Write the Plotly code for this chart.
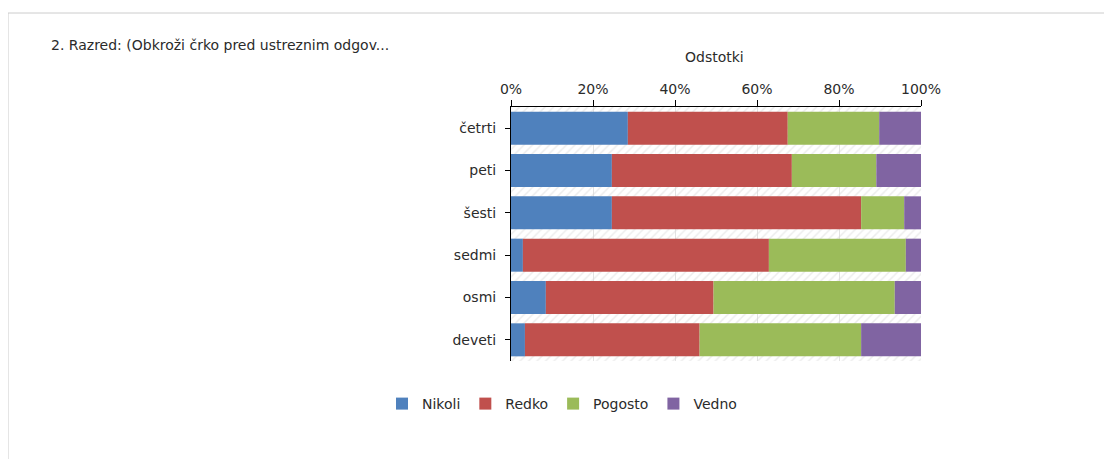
import numpy as np
import plotly.graph_objects as go

categories = ["četrti", "peti", "šesti", "sedmi", "osmi", "deveti"]
nikoli = [28.5, 24.6, 24.6, 2.9, 8.5, 3.4]
redko = [39.0, 43.9, 60.8, 60.0, 40.9, 42.6]
pogosto = [22.3, 20.6, 10.5, 33.4, 44.2, 39.4]
vedno = [10.2, 10.9, 4.1, 3.7, 6.4, 14.6]
series_names = ["Nikoli", "Redko", "Pogosto", "Vedno"]
colors = ["#4F81BD", "#C0504D", "#9BBB59", "#8064A2"]
tick_vals = [0, 20, 40, 60, 80, 100]
tick_text = ["0%", "20%", "40%", "60%", "80%", "100%"]

OFF = 8  # page body margin
W, H = 1112 - OFF, 459 - OFF
L = 511 - OFF
T = 107 - OFF
R = W - (921 - OFF)
B = H - (361 - OFF)
pw, ph = W - L - R, H - T - B

def px(x):
    return (x - OFF - L) / pw

def py(y):
    return (H - B - (y - OFF)) / ph

FONT = "DejaVu Sans"
TXT = "#2b2b2b"
FS = 14

fig = go.Figure()

# hatched plot background (between bars)
fig.add_trace(go.Bar(
    y=categories, x=[100] * len(categories), base=[0] * len(categories),
    orientation="h", width=1.0, showlegend=False, hoverinfo="skip",
    marker=dict(color="rgba(255,255,255,0)", line=dict(width=0),
                pattern=dict(shape="/", fgcolor="#dadada", bgcolor="rgba(255,255,255,0)",
                             size=6, solidity=0.25, fillmode="overlay")),
))

data = np.array([nikoli, redko, pogosto, vedno])
bases = np.vstack([np.zeros(len(categories)), np.cumsum(data, axis=0)[:-1]])
for name, vals, b, c in zip(series_names, data, bases, colors):
    fig.add_trace(go.Bar(
        y=categories, x=list(vals), base=list(b), orientation="h", name=name,
        marker=dict(color=c, line=dict(width=0)),
    ))

fig.update_layout(
    width=W, height=H,
    barmode="overlay", bargap=0.22,
    paper_bgcolor="white", plot_bgcolor="white",
    margin=dict(l=L, r=R, t=T, b=B, pad=0),
    font=dict(family=FONT, size=FS, color=TXT),
    showlegend=True,
    legend=dict(orientation="h", x=px(562), xanchor="center", y=py(404), yanchor="middle",
                font=dict(family=FONT, size=FS, color=TXT), traceorder="normal",
                itemwidth=30),
    xaxis=dict(side="top", range=[0, 100], tickvals=tick_vals, ticktext=tick_text,
               showline=True, linecolor="#000000", linewidth=1, ticks="outside",
               ticklen=6, tickcolor="#000000", showgrid=True, gridcolor="#e2e2e2",
               zeroline=False, tickfont=dict(family=FONT, size=FS, color=TXT)),
    yaxis=dict(autorange="reversed", showline=True, linecolor="#000000", linewidth=1,
               ticks="outside", ticklen=5, tickcolor="#000000", showgrid=False,
               ticklabelstandoff=6,
               tickfont=dict(family=FONT, size=FS, color=TXT)),
    annotations=[
        dict(text="2. Razred: (Obkroži črko pred ustreznim odgov...", xref="paper", yref="paper",
             x=px(49), y=py(45), xanchor="left", yanchor="middle", showarrow=False,
             font=dict(family=FONT, size=FS, color=TXT)),
        dict(text="Odstotki", xref="paper", yref="paper", x=px(714), y=py(57),
             xanchor="center", yanchor="middle", showarrow=False,
             font=dict(family=FONT, size=FS, color=TXT)),
    ],
    shapes=[
        dict(type="line", xref="paper", yref="paper", x0=px(8), x1=px(1112), y0=py(13), y1=py(13),
             line=dict(color="#cccccc", width=1)),
        dict(type="line", xref="paper", yref="paper", x0=px(8), x1=px(8), y0=py(13), y1=py(459),
             line=dict(color="#cccccc", width=1)),
    ],
)

fig.write_html("out.html")
